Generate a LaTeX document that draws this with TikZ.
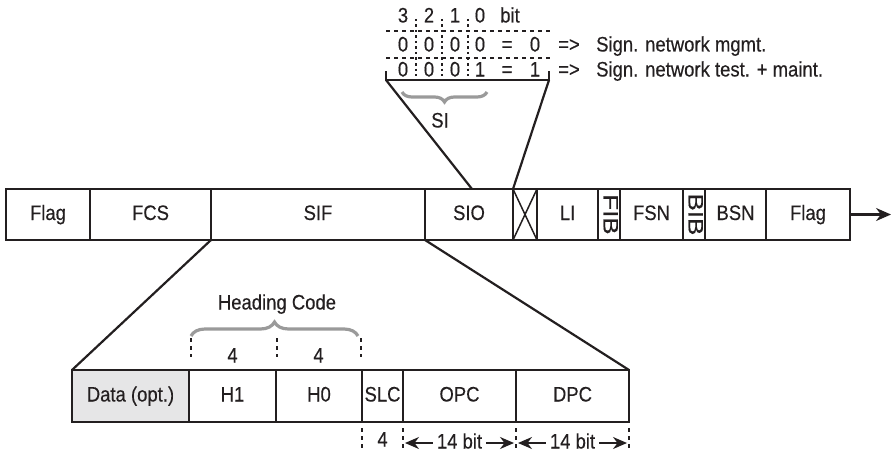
\documentclass[tikz,border=0pt]{standalone}
\usepackage{fontspec}
\setmainfont{Liberation Sans}[FakeStretch=0.88, FakeBold=0.3]
\usepackage{graphicx}
\usetikzlibrary{arrows.meta,decorations.pathreplacing,calc}
\definecolor{frameK}{HTML}{231F20}
\definecolor{braceG}{HTML}{9A9A9A}
\definecolor{dataBg}{HTML}{E6E6E7}

\begin{document}
\begin{tikzpicture}[x=1pt, y=-1pt, color=frameK,
  font=\fontsize{21}{23}\selectfont,
  lbl/.style={inner sep=0pt, text height=15pt, text depth=4pt},
  cell/.style={lbl, draw=frameK, line width=2.4pt, outer sep=0pt,
    minimum height=51pt},
  lowcell/.style={cell, minimum height=52pt},
  tick/.style={draw=frameK, line width=2.2pt, dash pattern=on 4pt off 4pt},
  zoomline/.style={draw=frameK, line width=2.2pt},
  grpbrace/.style={draw=braceG, line width=3.2pt, decorate},
  dimarrow/.style={line width=1.8pt,
    {Stealth[length=14pt,width=12pt]}-{Stealth[length=14pt,width=12pt]}}]
  \useasboundingbox (0,0) rectangle (893,452);

  % signal unit, top row
  \foreach \n/\c/\w/\t in {
    flagA/48/84/Flag,
    fcs/150.5/121/FCS,
    sif/318/214/SIF,
    sio/469/88/SIO,
    spare/525/24/{},
    li/567.5/61/LI,
    fsn/651.5/63/FSN,
    bsn/735.5/61/BSN,
    flagB/808/84/Flag}{
    \node[cell, minimum width=\w] (\n) at (\c,214.5) {\t};
  }
  \foreach \n/\c/\t in {fib/609/FIB, bib/694/BIB}{
    \node[cell, rotate=-90, minimum width=51pt, minimum height=22pt]
      (\n) at (\c,214.5) {\scalebox{1.4}[1]{\t}};
  }
  \draw[line width=1.5pt] (spare.north west) -- (spare.south east)
    (spare.north east) -- (spare.south west);
  \coordinate (outEnd) at (891,214.5);
  \draw[line width=2.2pt, -{Stealth[length=15pt,width=13pt]}] (flagB.east) -- (outEnd);

  % SIF expanded
  \node[lowcell, fill=dataBg, minimum width=117] (data) at (130.5,396) {Data (opt.)};
  \foreach \n/\c/\w/\t in {
    h1/232.5/87/H1,
    h0/319/86/H0,
    slc/382.5/41/SLC,
    opc/459.5/113/OPC,
    dpc/572.5/113/DPC}{
    \node[lowcell, minimum width=\w] (\n) at (\c,396) {\t};
  }
  \draw[zoomline] (sif.south west) -- (data.north west);
  \draw[zoomline] (sif.south east) -- (dpc.north east);

  % heading code
  \draw[grpbrace, decoration={brace, amplitude=14pt}] (191,336) -- (358,336);
  \node[lbl] (hdc) at (277,304) {Heading Code};
  \foreach \x in {191,277,361}{
    \draw[tick] (\x,338) -- (\x,357);
  }
  \node[lbl] (nH1) at (232.5,357) {4};
  \node[lbl] (nH0) at (318.5,357) {4};

  % field widths below
  \foreach \n/\a in {t1/slc.south west, t2/opc.south west, t3/dpc.south west, t4/dpc.south east}{
    \coordinate (\n) at ($(\a)+(0,21)$);
    \draw[tick] ($(\n)+(0,-15)$) -- ($(\n)+(0,8)$);
  }
  \node[lbl] (nSlc) at (382.5,441) {4};
  \draw[dimarrow] ($(t2)+(2,0)$) -- node[lbl, fill=white, inner xsep=4pt] (wOpc) {14 bit} ($(t3)+(-2,0)$);
  \draw[dimarrow] ($(t3)+(2,0)$) -- node[lbl, fill=white, inner xsep=4pt] (wDpc) {14 bit} ($(t4)+(-2,0)$);

  % SIO expanded: service indicator
  \coordinate (siL) at (386,80);
  \coordinate (siR) at (549,80);
  \draw[zoomline] (siL) ++(0,-9) -- (siL) -- (siR) -- ++(0,-9);
  \draw[zoomline] (siL) -- ($(sio.north west)!0.534!(sio.north east)$);
  \draw[zoomline] (siR) -- (sio.north east);
  \draw[grpbrace, decoration={brace, mirror, amplitude=10pt}] (402,92) -- (487,92);
  \node[lbl] (si) at (440,122) {SI};

  \foreach \x/\d in {403/3, 429/2, 455/1, 480/0}{
    \node[lbl] (hd\d) at (\x,17) {\d};
  }
  \node[lbl] (hdBit) at (510,17) {bit};
  \foreach \r/\y/\v in {a/46/0, b/71/1}{
    \foreach \x/\k in {403/3, 429/2, 455/1}{
      \node[lbl] (\r\k) at (\x,\y) {0};
    }
    \node[lbl] (\r0) at (480,\y) {\v};
    \node[lbl] (\r eq) at (507,\y) {=};
    \node[lbl] (\r val) at (535,\y) {\v};
    \node[lbl] (\r to) at (569,\y) {=>};
  }
  \node[lbl, anchor=west] (aTxt) at (596,46) {Sign. network mgmt.};
  \node[lbl, anchor=west] (bTxt) at (596,71) {Sign. network test. + maint.};
  \foreach \y in {31,58}{
    \draw[tick, line width=1.8pt] (386,\y) -- (553,\y);
  }
  \foreach \x in {416,442,468}{
    \draw[tick, line width=1.8pt, dash pattern=on 2.5pt off 3pt] (\x,19) -- (\x,76);
  }
\end{tikzpicture}
\end{document}
